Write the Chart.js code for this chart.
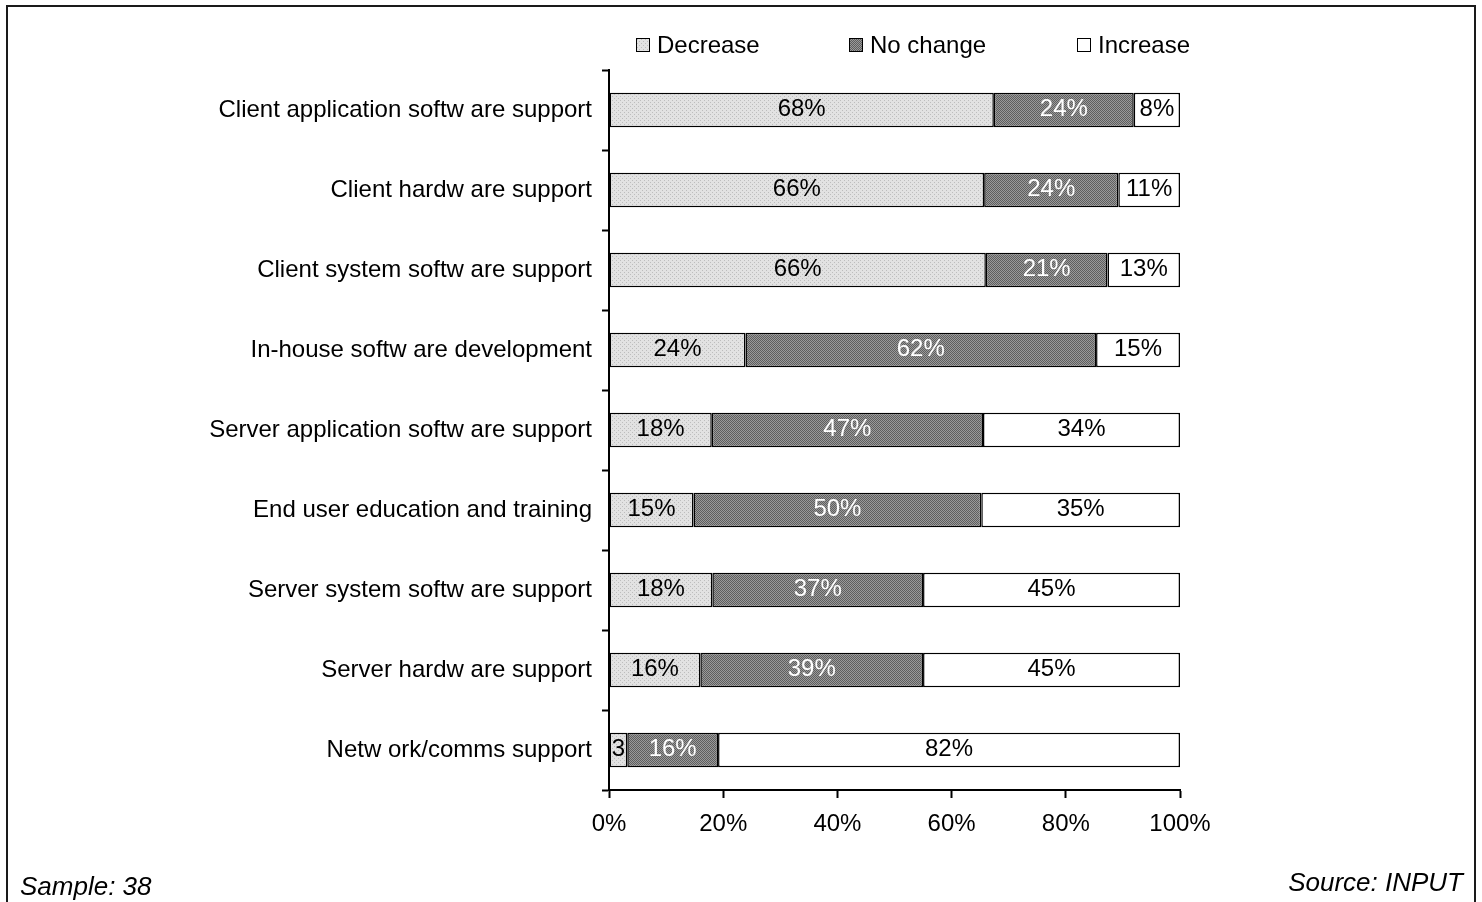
<!DOCTYPE html>
<html>
<head>
<meta charset="utf-8">
<script src="https://cdn.jsdelivr.net/npm/chart.js@4"></script>
<style>
  html, body { margin: 0; padding: 0; background: #fff; }
  body { width: 1482px; height: 902px; position: relative; overflow: hidden;
         font-family: "Liberation Sans", Arial, sans-serif; color: #000; }
  #frame { position: absolute; left: 6px; top: 5px; width: 1466px; height: 1000px;
           border: 2px solid #1a1a1a; }
  #wrap { position: absolute; left: 0; top: 0; width: 1482px; height: 902px; }
  .legend { position: absolute; top: 31px; font-size: 24px; line-height: 28px; white-space: nowrap; }
  .legend .box { display: inline-block; width: 12px; height: 12px; border: 1.5px solid #000;
                 margin-right: 7px; vertical-align: 1px; }
  .note { position: absolute; font-size: 26px; font-style: italic; line-height: 30px; }
</style>
</head>
<body>
<div id="frame"></div>
<div id="wrap"><canvas id="chart" width="1482" height="902"></canvas></div>

<div class="legend" style="left:636px"><span class="box" id="boxDec"></span>Decrease</div>
<div class="legend" style="left:849px"><span class="box" id="boxNc"></span>No change</div>
<div class="legend" style="left:1077px"><span class="box" style="background:#fff"></span>Increase</div>

<div class="note" style="left:20px; top:871px">Sample: 38</div>
<div class="note" style="right:19px; top:867px">Source: INPUT</div>

<script>
/*********************************
 DATA
*********************************/
const categories = [
  "Client application softw are support",
  "Client hardw are support",
  "Client system softw are support",
  "In-house softw are development",
  "Server application softw are support",
  "End user education and training",
  "Server system softw are support",
  "Server hardw are support",
  "Netw ork/comms support"
];
const seriesNames = ["Decrease", "No change", "Increase"];

// printed percentages (labels on the bars)
const decrease = [68, 66, 66, 24, 18, 15, 18, 16, 3];
const noChange = [24, 24, 21, 62, 47, 50, 37, 39, 16];
const increase = [8, 11, 13, 15, 34, 35, 45, 45, 82];

// bar lengths as drawn in the picture (unrounded shares, each row fills 100%)
const decreaseBar = [67.4, 65.7, 66.0, 23.9, 18.0, 14.8, 18.1, 16.0, 3.2];
const noChangeBar = [24.5, 23.5, 21.3, 61.4, 47.5, 50.4, 36.9, 39.0, 15.9];
const increaseBar = [8.1, 10.8, 12.7, 14.7, 34.5, 34.8, 45.0, 45.0, 80.9];

const xTicks = [0, 20, 40, 60, 80, 100];

/*********************************
 PATTERNS
*********************************/
function stipple(base, dot, cells) {
  const c = document.createElement("canvas");
  c.width = 4; c.height = 4;
  const g = c.getContext("2d");
  g.fillStyle = base;
  g.fillRect(0, 0, 4, 4);
  g.fillStyle = dot;
  cells.forEach(([x, y]) => g.fillRect(x, y, 1, 1));
  return c;
}
const decTile = stipple("#e2e2e2", "#bdbdbd", [[0, 0], [2, 2]]);
const ncTile = stipple("#9a9a9a", "#5e5e5e", [[0, 0], [2, 0], [1, 1], [3, 1], [0, 2], [2, 2], [1, 3], [3, 3]]);

const ctx = document.getElementById("chart").getContext("2d");
const decFill = ctx.createPattern(decTile, "repeat");
const ncFill = ctx.createPattern(ncTile, "repeat");

document.getElementById("boxDec").style.background = "url(" + decTile.toDataURL() + ")";
document.getElementById("boxNc").style.background = "url(" + ncTile.toDataURL() + ")";

/*********************************
 LABELS ON BARS
*********************************/
const printed = [decrease, noChange, increase];

const barLabels = {
  id: "barLabels",
  afterDatasetsDraw(chart) {
    const c = chart.ctx;
    c.save();
    c.font = "24px 'Liberation Sans', Arial, sans-serif";
    c.textAlign = "center";
    c.textBaseline = "middle";
    chart.data.datasets.forEach((ds, i) => {
      chart.getDatasetMeta(i).data.forEach((bar, j) => {
        const v = printed[i][j];
        const p = bar.getCenterPoint();
        c.fillStyle = i === 1 ? "#ffffff" : "#000000";
        c.fillText(v < 5 ? String(v) : v + "%", p.x, p.y - 1);
      });
    });
    c.restore();
  }
};

/*********************************
 CHART
*********************************/
const ds = (label, data, fill) => ({
  label, data,
  backgroundColor: fill,
  borderColor: "#000",
  borderWidth: 1.5,
  borderSkipped: false,
  barPercentage: 0.43,
  categoryPercentage: 1
});

new Chart(ctx, {
  type: "bar",
  data: {
    labels: categories,
    datasets: [
      ds(seriesNames[0], decreaseBar, decFill),
      ds(seriesNames[1], noChangeBar, ncFill),
      ds(seriesNames[2], increaseBar, "#ffffff")
    ]
  },
  options: {
    indexAxis: "y",
    responsive: false,
    animation: false,
    layout: { padding: { left: 0, top: 70, right: 302, bottom: 0 } },
    plugins: { legend: { display: false }, tooltip: { enabled: false } },
    scales: {
      x: {
        stacked: true,
        min: 0, max: 100,
        afterBuildTicks: s => { s.ticks = xTicks.map(v => ({ value: v })); },
        afterFit: s => { s.height = 112; },
        ticks: {
          color: "#000",
          padding: 12,
          font: { size: 24, family: "'Liberation Sans', Arial, sans-serif" },
          callback: v => v + "%"
        },
        grid: { drawOnChartArea: false, drawTicks: true, tickLength: 8, tickColor: "#000", tickWidth: 2 },
        border: { display: true, color: "#000", width: 2 }
      },
      y: {
        stacked: true,
        afterFit: s => { s.width = 609; },
        ticks: {
          color: "#000",
          padding: 10,
          font: { size: 24, family: "'Liberation Sans', Arial, sans-serif" }
        },
        grid: { offset: true, drawOnChartArea: false, drawTicks: true, tickLength: 7, tickColor: "#000", tickWidth: 2 },
        border: { display: true, color: "#000", width: 2 }
      }
    }
  },
  plugins: [barLabels]
});
</script>
</body>
</html>
